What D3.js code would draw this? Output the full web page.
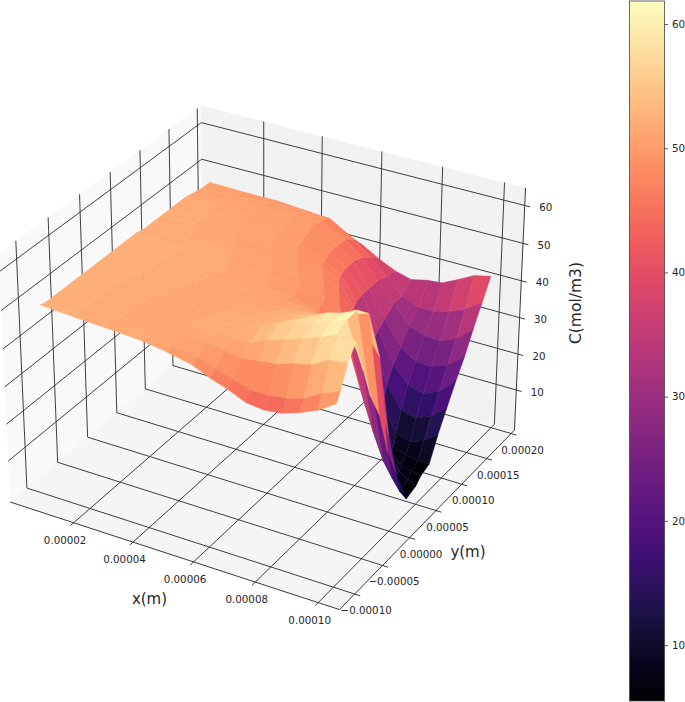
<!DOCTYPE html>
<html>
<head>
<meta charset="utf-8">
<script src="https://d3js.org/d3.v7.min.js"></script>
<style>
  body { margin: 0; background: #fff; }
  text { font-family: "DejaVu Sans", sans-serif; fill: #262626; }
</style>
</head>
<body>
<div id="chart"></div>
<script>
// axis ticks and limits
var xTicks = [0.00002, 0.00004, 0.00006, 0.00008, 0.0001];
var yTicks = [-0.0001, -0.00005, 0, 0.00005, 0.0001, 0.00015, 0.0002];
var zTicks = [10, 20, 30, 40, 50, 60];
var xLim = [-0.0000018, 0.0001067];
var yLim = [-0.0001266, 0.000207];
var zLim = [-1.3, 64.6];
var colorLim = [5.5, 61.85];

// mesh nodes, measured from the well in units of xStep / yStep
var wellX = 0.00010073, wellY = 0.0000228;
var xStep = 0.0000054, yStep = 0.0000166;
var xiNodes = [0, 1, 2, 3, 4, 5, 6, 7, 8, 9.5, 11, 13, 15, 16.9];
var etaNodes = [10, 9, 8, 7, 6, 5, 4, 3, 2, 1, -0.3, -1, -2, -3, -4, -5, -6, -7, -8, -8.5];
// the mesh bends: rows pinch together at the well, the back edge drops to the left
var rowSqueeze = [1, 1, 1, 1, 0.97, 0.92, 0.82, 0.68, 0.54, 0.42, 0.35, 0.42, 0.54, 0.68, 0.82, 0.95, 1, 1, 1, 1];
var rowEdge = [0, 0, 0, 0, 0, 0, 0, 0, 0, -0.2, -0.3, 0, 0, 0, 0, -0.1, -0.2, -0.3, -0.45, -0.5];
var topEta = [9.6, 9.6, 9.7, 9.8, 10, 10, 10, 10, 10, 9.8, 9.5, 9.2, 8.8, 8.5];

// C values, one row per eta node, one column per xi node
var conc = [
  [43,42,39.5,37.2,36.3,35.3,36.5,38.5,41,44.5,47.5,49,50,51],
  [38,35,33,31.5,31,33,37,41,44.5,49,50,50.5,50.5,51],
  [33,29,27,27,28,33,38,43,46.5,50,50.5,50.5,51,51.5],
  [27.5,24,22,22,24.5,31,38,44,47,50.5,50.5,51,51.5,52],
  [23,19,17,18,22,30,38.5,44.5,47.5,50,50.5,51,51.5,52],
  [18,14.5,12.5,13.5,19,29,39,45,47.5,50,51,51,52,52],
  [13,10,8.5,9.5,16,28,40,46,48.5,50,50.5,51,52,52],
  [7,7,7.5,8.5,15,26,41,46,48.5,50,50.5,51,52,52],
  [6,6.5,7.5,9,15,25,41,46,48.5,50,50.5,51.5,52,52],
  [5.8,7,8.5,12,18,27,41,46,48.5,50,50.5,51.5,52,52.5],
  [5.5,7,10,14,21,30,41,46,48.5,50,51,51.5,52,52.5],
  [14,23,30,36,42,46,48,49.5,50.5,51,51,51.5,52,52.5],
  [22,46,50,52,52.5,52.5,52.5,52,51.5,51,51.5,51.5,52,52.5],
  [34,59,58,57,55.5,54.5,53.5,52.5,52,51.5,51.5,51.5,52,52.5],
  [41,61.8,60,59,57,55,53,52,52,51.5,51.5,51.5,52,52.5],
  [50,61.5,59.5,58,57.5,56,54,52,52,51.5,51.5,51.5,52,52.5],
  [59.5,60,58,56.5,55,53.5,51.5,51.5,52,51.5,51.5,51.5,52,52.5],
  [56.5,56,53.5,52.5,51,50.5,50,50.5,51.5,51.5,51.5,51.5,52,52.5],
  [52,50,47.5,46,45.5,45.5,47,48.5,50,51,51.5,52,52,52.5],
  [50,47,45,43.5,43,43.5,45.5,47,49,50.5,51.5,52,52.5,53]
];

var width = 685, height = 702;

var svg = d3.select("#chart").append("svg")
  .attr("width", width)
  .attr("height", height);

// camera, same numbers as a default matplotlib 3d axes
var elev = 30 * Math.PI / 180, azim = -60 * Math.PI / 180, dist = 10;
var w = [Math.cos(elev) * Math.cos(azim), Math.cos(elev) * Math.sin(azim), Math.sin(elev)];
var un = Math.hypot(w[0], w[1]);
var u = [-w[1] / un, w[0] / un, 0];
var v = [w[1] * u[2] - w[2] * u[1], w[2] * u[0] - w[0] * u[2], w[0] * u[1] - w[1] * u[0]];

var xBox = d3.scaleLinear().domain(xLim).range([-0.595, 0.595]);
var yBox = d3.scaleLinear().domain(yLim).range([-0.595, 0.595]);
var zBox = d3.scaleLinear().domain(zLim).range([-0.4465, 0.4465]);
var xScreen = d3.scaleLinear().domain([-0.1, 0.1]).range([267 - 317, 267 + 317]);
var yScreen = d3.scaleLinear().domain([-0.1, 0.1]).range([345.5 + 317, 345.5 - 317]);

function view(x, y, z) {
  var p = [xBox(x), yBox(y), zBox(z)];
  return {
    a: p[0] * u[0] + p[1] * u[1] + p[2] * u[2],
    b: p[0] * v[0] + p[1] * v[1] + p[2] * v[2],
    d: p[0] * w[0] + p[1] * w[1] + p[2] * w[2]
  };
}
function project(x, y, z) {
  var q = view(x, y, z);
  return [xScreen(q.a / (dist - q.d)), yScreen(q.b / (dist - q.d))];
}
var line = d3.line();
function path3d(points) {
  return line(points.map(function (p) { return project(p[0], p[1], p[2]); }));
}

// panes
var x0 = xLim[0], x1 = xLim[1], y0 = yLim[0], y1 = yLim[1], z0 = zLim[0], z1 = zLim[1];
var panes = [
  { fill: "#f9f9f9", pts: [[x0, y0, z0], [x0, y1, z0], [x0, y1, z1], [x0, y0, z1]] },
  { fill: "#f2f2f2", pts: [[x0, y1, z0], [x1, y1, z0], [x1, y1, z1], [x0, y1, z1]] },
  { fill: "#f5f5f5", pts: [[x0, y0, z0], [x1, y0, z0], [x1, y1, z0], [x0, y1, z0]] }
];
svg.append("g").selectAll("path").data(panes).enter().append("path")
  .attr("d", function (d) { return path3d(d.pts) + "Z"; })
  .attr("fill", function (d) { return d.fill; });

// grid
var gridLines = [];
xTicks.forEach(function (t) { gridLines.push([[t, y0, z0], [t, y1, z0], [t, y1, z1]]); });
yTicks.forEach(function (t) { gridLines.push([[x1, t, z0], [x0, t, z0], [x0, t, z1]]); });
zTicks.forEach(function (t) { gridLines.push([[x0, y0, t], [x0, y1, t], [x1, y1, t]]); });
svg.append("g").selectAll("path").data(gridLines).enter().append("path")
  .attr("d", path3d)
  .attr("fill", "none")
  .attr("stroke", "#2a2a2a")
  .attr("stroke-width", 0.9);

// axis edges and ticks
var xOut = 0.016 * (x1 - x0), yOut = 0.016 * (y1 - y0);
var axisLines = [
  [[x0, y0, z0], [x1, y0, z0]],
  [[x1, y0, z0], [x1, y1, z0]],
  [[x1, y1, z0], [x1, y1, z1]]
];
xTicks.forEach(function (t) { axisLines.push([[t, y0, z0], [t, y0 - yOut, z0]]); });
yTicks.forEach(function (t) { axisLines.push([[x1, t, z0], [x1 + xOut, t, z0]]); });
zTicks.forEach(function (t) { axisLines.push([[x1, y1, t], [x1 + xOut, y1, t]]); });
svg.append("g").selectAll("path").data(axisLines).enter().append("path")
  .attr("d", path3d)
  .attr("fill", "none")
  .attr("stroke", "#222")
  .attr("stroke-width", 0.9);

function fmt(t) { return t.toFixed(5).replace("-", "\u2212"); }
function addLabels(ticks, pos, dx, dy, label) {
  svg.append("g").selectAll("text").data(ticks).enter().append("text")
    .attr("x", function (t) { return project.apply(null, pos(t))[0] + dx; })
    .attr("y", function (t) { return project.apply(null, pos(t))[1] + dy; })
    .attr("text-anchor", "middle")
    .attr("dominant-baseline", "central")
    .style("font-size", "10.3px")
    .text(label);
}
addLabels(xTicks, function (t) { return [t, y0, z0]; }, -8.5, 17, fmt);
addLabels(yTicks, function (t) { return [x1, t, z0]; }, 11.5, 16, fmt);
addLabels(zTicks, function (t) { return [x1, y1, t]; }, 21, 1.5, function (t) { return t; });

// surface, farthest facets first
var color = d3.scaleSequential(d3.interpolateMagma).domain(colorLim);
var xiMax = xiNodes[xiNodes.length - 1];
function vertex(j, i) {
  var xi = xiNodes[i], eta = etaNodes[j], edge = rowEdge[j];
  var s = xi * (rowSqueeze[j] + (1 - rowSqueeze[j]) * xi / xiMax);
  s = edge + s * (1 - edge / xiMax);
  var e = eta > 0 ? eta * topEta[i] / 10 : eta;
  return [wellX - s * xStep, wellY + e * yStep, conc[j][i]];
}
var facets = [];
d3.range(etaNodes.length - 1).forEach(function (j) {
  d3.range(xiNodes.length - 1).forEach(function (i) {
    var pts = [vertex(j, i), vertex(j, i + 1), vertex(j + 1, i + 1), vertex(j + 1, i)];
    facets.push({
      pts: pts,
      value: d3.mean(pts, function (p) { return p[2]; }),
      depth: d3.mean(pts, function (p) { return view(p[0], p[1], p[2]).d; })
    });
  });
});
facets.sort(function (a, b) { return d3.ascending(a.depth, b.depth); });
svg.append("g").selectAll("path").data(facets).enter().append("path")
  .attr("d", function (d) { return path3d(d.pts) + "Z"; })
  .attr("fill", function (d) { return color(d.value); })
  .attr("stroke", function (d) { return color(d.value); })
  .attr("stroke-width", 0.4)
  .attr("stroke-linejoin", "round");

// axis titles
svg.append("text").attr("x", 149.5).attr("y", 599)
  .attr("text-anchor", "middle").attr("dominant-baseline", "central")
  .style("font-size", "15px").text("x(m)");
svg.append("text").attr("x", 468).attr("y", 551.5)
  .attr("text-anchor", "middle").attr("dominant-baseline", "central")
  .style("font-size", "15px").text("y(m)");
svg.append("text")
  .attr("transform", "translate(575.5,303) rotate(-90)")
  .attr("text-anchor", "middle").attr("dominant-baseline", "central")
  .style("font-size", "15.5px").text("C(mol/m3)");

// colorbar
var barLeft = 629.5, barRight = 664.5, barTop = 1, barBottom = 701;
var barY = d3.scaleLinear().domain(colorLim).range([barBottom, barTop]);
var gradient = svg.append("defs").append("linearGradient")
  .attr("id", "barFill")
  .attr("x1", 0).attr("y1", 1).attr("x2", 0).attr("y2", 0);
gradient.selectAll("stop").data(d3.range(0, 1.0001, 1 / 64)).enter().append("stop")
  .attr("offset", function (d) { return d; })
  .attr("stop-color", function (d) { return d3.interpolateMagma(d); });
svg.append("rect")
  .attr("x", barLeft).attr("y", barTop)
  .attr("width", barRight - barLeft).attr("height", barBottom - barTop)
  .attr("fill", "url(#barFill)")
  .attr("stroke", "#444").attr("stroke-width", 0.8);
var barAxis = svg.append("g")
  .attr("transform", "translate(" + barRight + ",0)")
  .call(d3.axisRight(barY).tickValues(zTicks).tickSize(3.5).tickPadding(4));
barAxis.select(".domain").remove();
barAxis.selectAll("text").style("font-size", "10.3px").style("font-family", "DejaVu Sans");
barAxis.selectAll("line").attr("stroke", "#333").attr("stroke-width", 0.8);
</script>
</body>
</html>
